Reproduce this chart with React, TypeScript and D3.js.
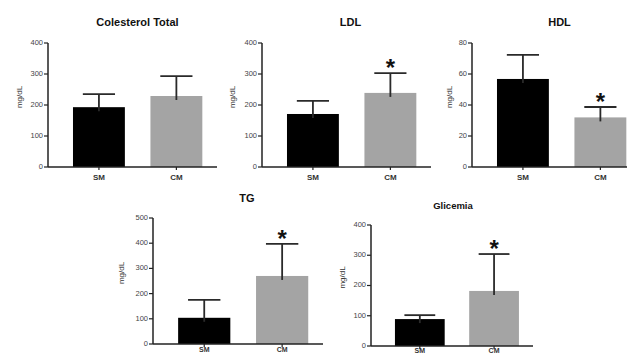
import React from "react";
import * as d3 from "d3";

const width = 627;
const height = 353;

// data
const groups = ["SM", "CM"];
const titles = ["Colesterol Total", "LDL", "HDL", "TG", "Glicemia"];
const means = [
  [193, 229],
  [171, 239],
  [56.8, 32],
  [104, 270],
  [89, 182],
];
const errors = [
  [42, 64],
  [42, 64],
  [15.5, 6.7],
  [71, 127],
  [13, 122],
];
const significant = [
  [false, false],
  [false, true],
  [false, true],
  [false, true],
  [false, true],
];
const yMax = [400, 400, 80, 500, 400];
const tickStep = [100, 100, 20, 100, 100];
const barColors = ["#000000", "#a4a4a4"];

// panel placement (axis origin, axis length, top of y axis, title position)
const layout = [
  { x0: 48, y0: 167, top: 43, len: 169, titleY: 26, titleDx: 5, labelX: 20, catY: 180 },
  { x0: 262, y0: 167, top: 43, len: 169, titleY: 26, titleDx: 4, labelX: 233, catY: 180 },
  { x0: 472, y0: 167, top: 43, len: 169, titleY: 26, titleDx: 3, labelX: 450, catY: 180 },
  { x0: 153, y0: 344, top: 218, len: 170, titleY: 202, titleDx: 9, labelX: 122, catY: 352 },
  { x0: 371, y0: 346, top: 225, len: 162, titleY: 209, titleDx: 1, labelX: 343, catY: 353 },
];

const font = "Liberation Sans, Arial, sans-serif";

function Panel({ i }: { i: number }) {
  const L = layout[i];
  const x = d3
    .scaleBand<string>()
    .domain(groups)
    .range([L.x0, L.x0 + L.len])
    .paddingInner(0.33)
    .paddingOuter(0.256)
    .align(0.63);
  const y = d3.scaleLinear().domain([0, yMax[i]]).range([L.y0, L.top]);
  const ticks = d3.range(0, yMax[i] + 1, tickStep[i]);
  const bw = x.bandwidth();
  const cap = bw * 0.31;
  const midX = L.x0 + L.len / 2 + L.titleDx;

  return (
    <g>
      <text
        x={midX}
        y={L.titleY}
        textAnchor="middle"
        fontFamily={font}
        fontWeight="bold"
        fontSize={i === 4 ? 9.5 : 11}
        fill="#111"
      >
        {titles[i]}
      </text>
      <text
        transform={`translate(${L.labelX},${(L.top + L.y0) / 2 - 8}) rotate(-90)`}
        textAnchor="middle"
        dominantBaseline="middle"
        fontFamily={font}
        fontSize={8}
        fill="#333"
      >
        mg/dL
      </text>
      {groups.map((g, j) => {
        const bx = x(g)!;
        const cx = bx + bw / 2;
        const top = y(means[i][j]);
        const et = y(means[i][j] + errors[i][j]);
        return (
          <g key={g}>
            <rect x={bx} y={top} width={bw} height={L.y0 - top} fill={barColors[j]} />
            <line x1={cx} x2={cx} y1={top + 4} y2={et} stroke="#2a2a2a" strokeWidth={1.8} />
            <line x1={cx - cap} x2={cx + cap} y1={et} y2={et} stroke="#2a2a2a" strokeWidth={1.8} />
            {significant[i][j] && (
              <text
                x={cx}
                y={et + 3}
                textAnchor="middle"
                fontFamily={font}
                fontWeight="bold"
                fontSize={24}
                fill="#111"
              >
                *
              </text>
            )}
            <line x1={cx} x2={cx} y1={L.y0} y2={L.y0 + 3} stroke="#222" strokeWidth={1.2} />
            <text
              x={cx}
              y={L.catY}
              textAnchor="middle"
              fontFamily={font}
              fontWeight="bold"
              fontSize={i > 2 ? 7 : 8}
              fill="#333"
            >
              {g}
            </text>
          </g>
        );
      })}
      <line x1={L.x0} x2={L.x0} y1={L.top} y2={L.y0} stroke="#222" strokeWidth={1.5} />
      <line x1={L.x0} x2={L.x0 + L.len} y1={L.y0} y2={L.y0} stroke="#222" strokeWidth={1.5} />
      {ticks.map((t) => (
        <g key={t}>
          <line x1={L.x0 - 4} x2={L.x0} y1={y(t)} y2={y(t)} stroke="#222" strokeWidth={1.2} />
          <text
            x={L.x0 - 5}
            y={y(t)}
            textAnchor="end"
            dominantBaseline="middle"
            fontFamily={font}
            fontSize={7.5}
            fill="#444"
          >
            {t}
          </text>
        </g>
      ))}
    </g>
  );
}

export default function App() {
  return (
    <svg
      width={width}
      height={height}
      style={{ position: "absolute", left: 0, top: 0, background: "#fff" }}
    >
      {titles.map((_, i) => (
        <Panel key={i} i={i} />
      ))}
    </svg>
  );
}
